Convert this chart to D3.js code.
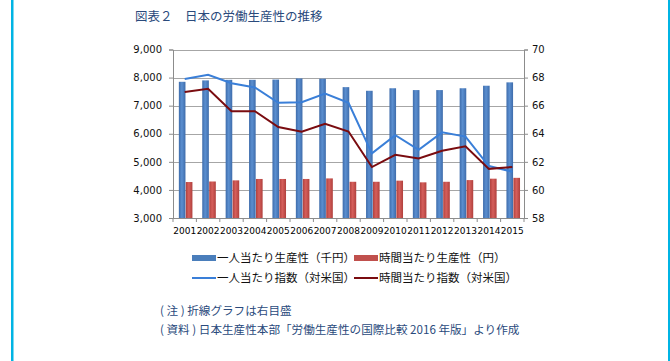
<!DOCTYPE html>
<html><head><meta charset="utf-8">
<script src="https://cdn.jsdelivr.net/npm/d3@7/dist/d3.min.js"></script>
<style>body{margin:0;background:#fff}svg{display:block}</style>
</head><body><svg id="c" width="670" height="361"></svg>
<script>
const years = ["2001","2002","2003","2004","2005","2006","2007","2008","2009","2010","2011","2012","2013","2014","2015"];
const perPerson = [7850,7900,7920,7920,7930,7970,7960,7660,7530,7620,7555,7555,7620,7710,7830];
const perHour = [4281,4300,4340,4390,4390,4390,4410,4290,4290,4330,4270,4290,4350,4400,4430];
const personIndex = [67.9,68.2,67.6,67.3,66.2,66.25,66.87,66.2,62.6,63.9,62.86,64.1,63.8,61.7,61.3];
const hourIndex = [66.97,67.2,65.6,65.6,64.48,64.14,64.7,64.16,61.63,62.5,62.24,62.79,63.1,61.5,61.63];
const leftTicks = [3000,4000,5000,6000,7000,8000,9000];
const rightTicks = [58,60,62,64,66,68,70];
const legendLabels = ["一人当たり生産性（千円）","時間当たり生産性（円）","一人当たり指数（対米国）","時間当たり指数（対米国）"];
const title = "図表２　日本の労働生産性の推移";
const notes = ["( 注 ) 折線グラフは右目盛","( 資料 ) 日本生産性本部「労働生産性の国際比較 2016 年版」より作成"];

const svg = d3.select("#c");
const W=670,H=361;
const L=173,R=524,T=49.5,B=218;
const blue="#4a7ebb", red="#c0504d", lblue="#3a7fd8", dred="#7a0c10";
const navy="#2a4a7c";
const jp = "'Noto Sans CJK JP','Noto Sans',sans-serif";

// frame
svg.append("rect").attr("x",11).attr("y",0).attr("width",2.5).attr("height",H).attr("fill","#00b4e4");
svg.append("rect").attr("x",668).attr("y",0).attr("width",2.5).attr("height",H).attr("fill","#00b4e4");

svg.append("text").attr("x",135).attr("y",21).attr("font-family",jp).attr("font-size",12.5)
  .attr("fill",navy).text(title);

const x = d3.scaleBand().domain(years).range([L,R]).padding(0);
const bw = x.bandwidth();
const x1 = d3.scaleBand().domain([0,1]).range([bw*0.25,bw*0.83]).paddingInner(0.05);
const yL = d3.scaleLinear().domain([3000,9000]).range([B,T]);
const yR = d3.scaleLinear().domain([58,70]).range([B,T]);

// gridlines
svg.append("g").selectAll("line").data(leftTicks).join("line")
  .attr("x1",L).attr("x2",R).attr("y1",d=>Math.round(yL(d))+0.5).attr("y2",d=>Math.round(yL(d))+0.5)
  .attr("stroke","#a6a6a6").attr("stroke-width",1);

// left axis
const axL = svg.append("g").attr("transform",`translate(${L},0)`)
  .call(d3.axisLeft(yL).tickValues(leftTicks).tickFormat(d3.format(",")).tickSize(4).tickPadding(7));
axL.select(".domain").attr("stroke","#8c8c8c");
axL.selectAll(".tick line").attr("stroke","#8c8c8c");
axL.selectAll("text").attr("font-family","'DejaVu Sans',sans-serif").attr("font-size",10).attr("fill","#111");

const axR = svg.append("g").attr("transform",`translate(${R},0)`)
  .call(d3.axisRight(yR).tickValues(rightTicks).tickSize(4).tickPadding(4));
axR.select(".domain").attr("stroke","#8c8c8c");
axR.selectAll(".tick line").attr("stroke","#8c8c8c");
axR.selectAll("text").attr("font-family","'DejaVu Sans',sans-serif").attr("font-size",10).attr("fill","#111");

// bars
const defs = svg.append("defs");
function grad(id,c1,c2){
  const g=defs.append("linearGradient").attr("id",id).attr("x1","0").attr("x2","1").attr("y1","0").attr("y2","0");
  g.append("stop").attr("offset","0").attr("stop-color",c2);
  g.append("stop").attr("offset","0.45").attr("stop-color",c1);
  g.append("stop").attr("offset","1").attr("stop-color",c2);
}
grad("gb","#5b8fd0","#3e6cab");
grad("gr","#d65f5b","#b0403d");

const gBars = svg.append("g");
gBars.selectAll(".b1").data(years).join("rect")
  .attr("x",(d)=>x(d)+x1(0)).attr("width",x1.bandwidth())
  .attr("y",(d,i)=>yL(perPerson[i])).attr("height",(d,i)=>B-yL(perPerson[i]))
  .attr("fill","url(#gb)");
gBars.selectAll(".b2").data(years).join("rect")
  .attr("x",(d)=>x(d)+x1(1)).attr("width",x1.bandwidth())
  .attr("y",(d,i)=>yL(perHour[i])).attr("height",(d,i)=>B-yL(perHour[i]))
  .attr("fill","url(#gr)");

// x axis
const axX = svg.append("g").attr("transform",`translate(0,${B})`)
  .call(d3.axisBottom(x).tickSize(0).tickPadding(10));
axX.select(".domain").attr("stroke","#8c8c8c");
axX.selectAll("text").attr("font-family","'DejaVu Sans',sans-serif").attr("font-size",9).attr("fill","#000");
svg.append("g").selectAll("line").data(d3.range(years.length+1)).join("line")
  .attr("x1",i=>L+i*bw).attr("x2",i=>L+i*bw).attr("y1",B).attr("y2",B+4).attr("stroke","#8c8c8c");

// lines
const line = (arr,sc)=>d3.line().x((d,i)=>x(years[i])+bw/2).y(d=>sc(d))(arr);
svg.append("path").attr("d",line(personIndex,yR)).attr("fill","none").attr("stroke",lblue).attr("stroke-width",2);
svg.append("path").attr("d",line(hourIndex,yR)).attr("fill","none").attr("stroke",dred).attr("stroke-width",2);

// legend
const lg = svg.append("g").attr("font-family",jp).attr("font-size",11.5).attr("fill","#111");
const items = [
  {x:192,y:258,type:"rect",c:blue,label:legendLabels[0]},
  {x:354,y:258,type:"rect",c:red,label:legendLabels[1]},
  {x:192,y:278,type:"line",c:lblue,label:legendLabels[2]},
  {x:354,y:278,type:"line",c:dred,label:legendLabels[3]}
];
items.forEach(it=>{
  if(it.type==="rect") lg.append("rect").attr("x",it.x).attr("y",it.y-3).attr("width",24).attr("height",6).attr("fill",it.c);
  else lg.append("line").attr("x1",it.x).attr("x2",it.x+24).attr("y1",it.y).attr("y2",it.y).attr("stroke",it.c).attr("stroke-width",2);
  lg.append("text").attr("x",it.x+25).attr("y",it.y+4).text(it.label);
});

svg.append("g").attr("font-family",jp).attr("font-size",11.6).attr("fill",navy)
  .selectAll("text").data(notes).join("text")
  .attr("x",160).attr("y",(d,i)=>315+i*19).text(d=>d);
</script></body></html>
